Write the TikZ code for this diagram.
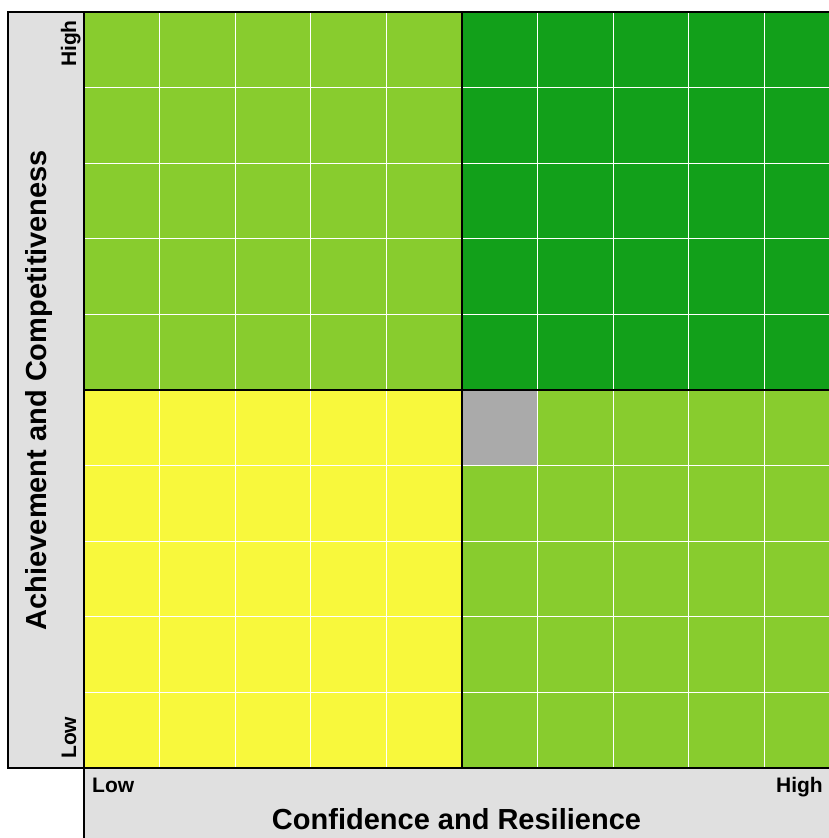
\documentclass[tikz,border=0pt]{standalone}
\usepackage{fontspec}
\setmainfont{Liberation Sans}
\usepackage{tikz}
\usetikzlibrary{positioning}
\definecolor{litegreen}{RGB}{136,204,46}
\definecolor{darkgreen}{RGB}{18,160,26}
\definecolor{quadyellow}{RGB}{248,248,60}
\definecolor{cellgray}{RGB}{170,170,170}
\definecolor{panelgray}{RGB}{224,224,224}

\begin{document}
\begin{tikzpicture}[x=1pt,y=-1pt,
		quad/.style={minimum height=378pt, minimum width=378pt, inner sep=0pt, outer sep=0pt},
		axislbl/.style={font=\fontsize{29}{34}\selectfont\bfseries, inner sep=0pt},
		endlbl/.style={font=\fontsize{21}{25}\selectfont\bfseries, inner sep=0pt}]
		\useasboundingbox (0,0) rectangle (829,838);
		\clip (0,0) rectangle (829,838);
		% axis panels
		\fill[panelgray] (8,12) rectangle (84,768);
		\fill[panelgray] (84,768) rectangle (829,838);
		
		% quadrants
		\node[quad, fill=litegreen, anchor=north west] (topleft) at (84,12) {};
		\node[quad, fill=darkgreen, right=0pt of topleft] (topright) {};
		\node[quad, fill=quadyellow, below=0pt of topleft] (botleft) {};
		\node[quad, fill=litegreen, right=0pt of botleft] (botright) {};
		
		% white cell lines
		\foreach \i in {1,...,9} {
			\draw[white, line width=1.3pt] (84+\i*75.6,12) -- (84+\i*75.6,768);
			\draw[white, line width=1.3pt] (84,12+\i*75.6) -- (840,12+\i*75.6);
		}
		\node[minimum size=75pt, inner sep=0pt, outer sep=0pt, fill=cellgray, anchor=north west] (graycell) at (botright.north west) {};
		
		% black frame and centre cross
		\draw[line width=2pt] (8,12) rectangle (84,768);
		\draw[line width=2pt] (topleft.north west) -- (topright.north east);
		\draw[line width=2pt] (botleft.south west) -- (botright.south east);
		\draw[line width=2pt] (botleft.south west) -- (84,838);
		\draw[line width=2.5pt] (topleft.north east) -- (botleft.south east);
		\draw[line width=2.5pt] (topleft.south west) -- (topright.south east);
		
		% labels
		\node[axislbl, rotate=90, anchor=base] (ylbl) at (46,390) {Achievement and Competitiveness};
		\node[axislbl, anchor=base] (xlbl) at (456.5,829) {Confidence and Resilience};
		\node[endlbl, anchor=base west] (xlow) at (92,792) {Low};
		\node[endlbl, anchor=base east] (xhigh) at (823,792) {High};
		\node[endlbl, rotate=90, anchor=base west] (ylow) at (76,759) {Low};
		\node[endlbl, rotate=90, anchor=base east] (yhigh) at (76,20) {High};
	\end{tikzpicture}
\end{document}
